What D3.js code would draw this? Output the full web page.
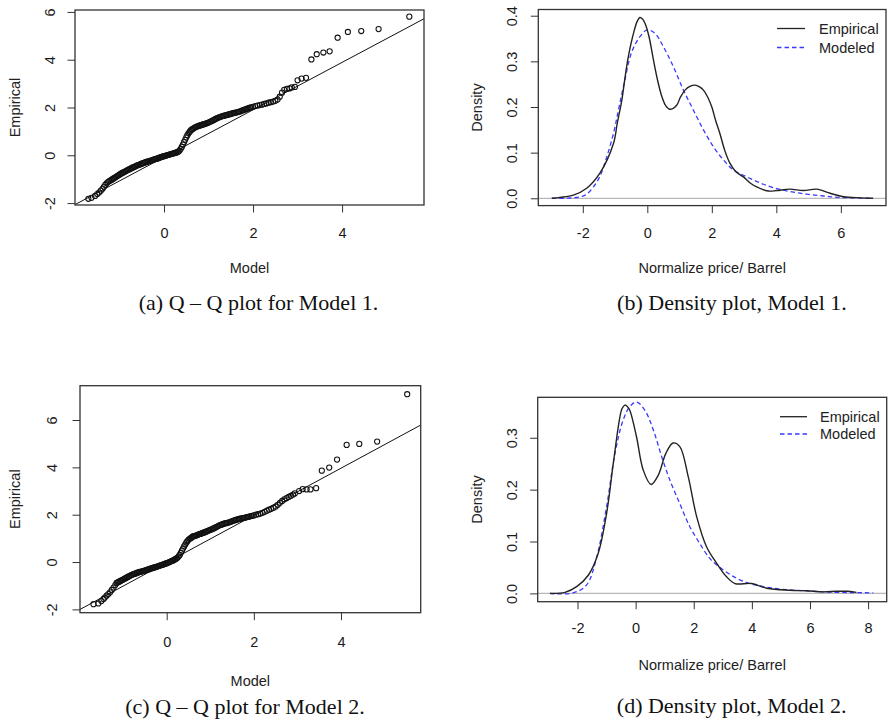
<!DOCTYPE html>
<html>
<head>
<meta charset="utf-8">
<script src="https://cdn.jsdelivr.net/npm/d3@7"></script>
<style>
  html, body { margin: 0; padding: 0; background: #fff; }
  svg { display: block; }
</style>
</head>
<body>
<svg id="fig" width="888" height="722"></svg>
<script>
// ---- data ----

// Q-Q Model 1: [model quantile, empirical quantile]
const qq1 = [
  [-1.70,-1.82],[-1.63,-1.78],[-1.55,-1.70],[-1.50,-1.62],[-1.46,-1.56],[-1.42,-1.48],
  [-1.38,-1.40],[-1.35,-1.32],[-1.32,-1.24],[-1.29,-1.17],[-1.26,-1.12],[-1.23,-1.08],
  [-1.200,-1.05],[-1.175,-1.02],[-1.150,-0.99],[-1.125,-0.96],[-1.100,-0.93],[-1.075,-0.90],
  [-1.050,-0.87],[-1.025,-0.84],[-1.000,-0.81],[-0.975,-0.78],[-0.950,-0.75],[-0.925,-0.73],
  [-0.900,-0.70],[-0.875,-0.68],[-0.850,-0.65],[-0.825,-0.63],[-0.800,-0.60],[-0.775,-0.58],
  [-0.750,-0.56],[-0.725,-0.53],[-0.700,-0.51],[-0.675,-0.49],[-0.650,-0.47],[-0.625,-0.44],
  [-0.600,-0.42],[-0.575,-0.41],[-0.550,-0.39],[-0.525,-0.37],[-0.500,-0.35],[-0.475,-0.33],
  [-0.450,-0.32],[-0.425,-0.30],[-0.400,-0.28],[-0.375,-0.27],[-0.350,-0.25],[-0.325,-0.24],
  [-0.300,-0.22],[-0.275,-0.21],[-0.250,-0.19],[-0.225,-0.18],[-0.200,-0.16],[-0.175,-0.15],
  [-0.150,-0.13],[-0.125,-0.12],[-0.100,-0.10],[-0.075,-0.08],[-0.050,-0.07],[-0.025,-0.05],
  [0.000,-0.04],[0.025,-0.02],[0.050,-0.01],[0.075,0.01],[0.100,0.02],[0.125,0.03],
  [0.150,0.05],[0.175,0.06],[0.200,0.07],[0.225,0.09],[0.250,0.10],[0.275,0.12],
  [0.300,0.13],[0.325,0.16],[0.350,0.20],[0.375,0.27],[0.400,0.35],[0.425,0.45],
  [0.450,0.55],[0.475,0.65],[0.500,0.75],[0.525,0.84],[0.550,0.92],[0.575,0.98],
  [0.600,1.04],[0.625,1.08],[0.650,1.11],[0.675,1.14],[0.700,1.17],[0.725,1.19],
  [0.750,1.21],[0.775,1.23],[0.800,1.24],[0.825,1.26],[0.850,1.27],[0.875,1.29],
  [0.900,1.30],[0.925,1.32],[0.950,1.34],[0.975,1.35],[1.000,1.37],
  [1.03,1.40],[1.06,1.42],[1.09,1.45],[1.12,1.48],[1.15,1.51],[1.18,1.54],[1.21,1.57],
  [1.24,1.59],[1.27,1.61],[1.30,1.63],[1.33,1.65],[1.36,1.66],[1.39,1.68],[1.42,1.69],
  [1.45,1.71],[1.48,1.72],[1.51,1.74],[1.54,1.75],[1.57,1.77],[1.60,1.78],[1.63,1.80],
  [1.66,1.81],[1.69,1.83],[1.72,1.84],[1.75,1.87],[1.78,1.89],[1.81,1.91],[1.84,1.93],
  [1.87,1.95],[1.90,1.97],[1.93,1.99],[1.96,2.01],[2.00,2.03],
  [2.05,2.06],[2.10,2.08],[2.15,2.10],[2.20,2.12],[2.25,2.15],[2.30,2.17],[2.35,2.20],
  [2.40,2.22],[2.45,2.25],[2.50,2.28],[2.55,2.33],[2.60,2.45],[2.65,2.62],[2.70,2.74],
  [2.76,2.78],[2.82,2.80],[2.87,2.84],[2.94,2.86],[3.00,3.14],[3.09,3.21],[3.19,3.24],
  [3.31,4.01],[3.43,4.23],[3.58,4.30],[3.72,4.35],[3.90,4.92],[4.13,5.16],[4.43,5.20],
  [4.82,5.28],[5.51,5.80]
];

// Q-Q Model 2
const qq2 = [
  [-1.68,-1.78],[-1.57,-1.75],[-1.50,-1.65],[-1.45,-1.56],[-1.42,-1.50],[-1.38,-1.42],
  [-1.34,-1.35],[-1.30,-1.28],[-1.26,-1.18],[-1.22,-1.08],[-1.18,-0.97],
  [-1.150,-0.88],[-1.125,-0.86],[-1.100,-0.84],[-1.075,-0.81],[-1.050,-0.79],[-1.025,-0.76],
  [-1.000,-0.74],[-0.975,-0.71],[-0.950,-0.69],[-0.925,-0.66],[-0.900,-0.64],[-0.875,-0.61],
  [-0.850,-0.59],[-0.825,-0.56],[-0.800,-0.54],[-0.775,-0.52],[-0.750,-0.51],[-0.725,-0.49],
  [-0.700,-0.47],[-0.675,-0.45],[-0.650,-0.44],[-0.625,-0.42],[-0.600,-0.41],[-0.575,-0.40],
  [-0.550,-0.38],[-0.525,-0.37],[-0.500,-0.36],[-0.475,-0.34],[-0.450,-0.33],[-0.425,-0.31],
  [-0.400,-0.30],[-0.375,-0.28],[-0.350,-0.27],[-0.325,-0.25],[-0.300,-0.24],[-0.275,-0.22],
  [-0.250,-0.21],[-0.225,-0.19],[-0.200,-0.18],[-0.175,-0.16],[-0.150,-0.15],[-0.125,-0.13],
  [-0.100,-0.12],[-0.075,-0.10],[-0.050,-0.08],[-0.025,-0.07],[0.000,-0.05],[0.025,-0.03],
  [0.050,-0.01],[0.075,0.01],[0.100,0.03],[0.125,0.05],[0.150,0.07],[0.175,0.10],
  [0.200,0.12],[0.225,0.15],[0.250,0.19],[0.275,0.24],[0.300,0.30],[0.325,0.39],
  [0.350,0.48],[0.375,0.57],[0.400,0.66],[0.425,0.74],[0.450,0.82],[0.475,0.88],
  [0.500,0.94],[0.525,0.98],[0.550,1.01],[0.575,1.04],[0.600,1.08],[0.625,1.09],
  [0.650,1.11],[0.675,1.12],[0.700,1.14],[0.725,1.16],[0.750,1.18],[0.775,1.19],
  [0.800,1.21],[0.825,1.23],[0.850,1.24],[0.875,1.26],[0.900,1.28],[0.925,1.30],
  [0.950,1.32],[0.975,1.34],[1.000,1.36],
  [1.03,1.38],[1.06,1.41],[1.09,1.43],[1.12,1.46],[1.15,1.49],[1.18,1.52],[1.21,1.55],
  [1.24,1.57],[1.27,1.59],[1.30,1.61],[1.33,1.63],[1.36,1.64],[1.39,1.66],[1.42,1.67],
  [1.45,1.69],[1.48,1.71],[1.51,1.73],[1.54,1.75],[1.57,1.77],[1.60,1.79],[1.63,1.80],
  [1.66,1.82],[1.69,1.83],[1.72,1.85],[1.75,1.86],[1.78,1.87],[1.81,1.88],[1.84,1.90],
  [1.87,1.91],[1.90,1.92],[1.93,1.94],[1.96,1.95],[2.00,1.97],
  [2.05,2.00],[2.10,2.02],[2.15,2.05],[2.20,2.08],[2.25,2.12],[2.30,2.17],[2.35,2.21],
  [2.40,2.25],[2.45,2.29],[2.50,2.34],[2.55,2.42],[2.60,2.50],[2.65,2.58],[2.70,2.65],
  [2.75,2.70],[2.80,2.75],[2.85,2.80],[2.90,2.85],[2.94,2.90],[3.04,3.00],[3.12,3.08],
  [3.21,3.07],[3.30,3.07],[3.43,3.12],
  [3.56,3.86],[3.73,3.99],[3.91,4.33],[4.13,4.95],[4.42,4.99],[4.83,5.09],[5.52,7.09]
];

// reference lines of the Q-Q plots: [intercept, slope]
const qqLine1 = [-0.08, 0.992];
const qqLine2 = [-0.02, 0.996];

// Density, Model 1: [price, density]
const empirical1 = [
  [-2.96,0.000],[-2.71,0.002],[-2.29,0.007],[-1.88,0.022],[-1.47,0.055],[-1.05,0.120],
  [-0.93,0.165],[-0.79,0.215],[-0.69,0.265],[-0.59,0.310],[-0.40,0.369],[-0.31,0.388],
  [-0.23,0.396],[-0.15,0.393],[-0.07,0.383],[0.05,0.355],[0.19,0.303],[0.32,0.258],
  [0.45,0.223],[0.57,0.203],[0.70,0.195],[0.91,0.204],[1.03,0.222],[1.17,0.237],
  [1.32,0.245],[1.48,0.248],[1.62,0.244],[1.74,0.237],[1.87,0.222],[2.00,0.200],
  [2.12,0.170],[2.25,0.142],[2.40,0.105],[2.56,0.077],[2.75,0.058],[2.98,0.047],
  [3.20,0.033],[3.39,0.025],[3.75,0.016],[4.01,0.017],[4.42,0.020],[4.84,0.017],
  [5.25,0.020],[5.67,0.011],[6.08,0.0035],[6.60,0.001],[7.00,0.000]
];
const modeled1 = [
  [-2.96,0.000],[-2.29,0.001],[-2.00,0.005],[-1.88,0.009],[-1.67,0.025],[-1.47,0.048],
  [-1.26,0.090],[-1.05,0.142],[-0.90,0.192],[-0.74,0.245],[-0.48,0.321],[-0.23,0.354],
  [0.00,0.369],[0.24,0.361],[0.50,0.332],[0.81,0.288],[1.12,0.237],[1.43,0.193],
  [1.74,0.150],[2.05,0.113],[2.36,0.084],[2.67,0.062],[3.08,0.047],[3.49,0.034],
  [3.91,0.023],[4.42,0.015],[4.94,0.009],[5.46,0.005],[5.98,0.002],[7.00,0.000]
];

// Density, Model 2
const empirical2 = [
  [-2.95,0.000],[-2.43,0.002],[-2.03,0.013],[-1.63,0.035],[-1.29,0.077],[-1.00,0.154],
  [-0.77,0.250],[-0.56,0.334],[-0.47,0.356],[-0.37,0.363],[-0.28,0.360],[-0.20,0.353],
  [0.03,0.302],[0.26,0.238],[0.53,0.210],[0.78,0.228],[1.04,0.270],[1.29,0.290],
  [1.52,0.283],[1.81,0.225],[2.10,0.148],[2.44,0.090],[2.79,0.058],[3.13,0.032],
  [3.42,0.019],[3.99,0.019],[4.51,0.010],[5.31,0.006],[5.88,0.005],[6.45,0.003],
  [6.92,0.004],[7.26,0.004],[7.60,0.002]
];
const modeled2 = [
  [-2.95,0.000],[-2.15,0.001],[-1.69,0.016],[-1.34,0.070],[-1.00,0.167],[-0.71,0.270],
  [-0.43,0.334],[-0.20,0.360],[0.03,0.369],[0.32,0.353],[0.61,0.315],[0.90,0.263],
  [1.18,0.218],[1.52,0.173],[1.87,0.128],[2.21,0.096],[2.56,0.067],[3.02,0.045],
  [3.48,0.029],[3.93,0.019],[4.51,0.012],[5.20,0.007],[5.88,0.005],[6.45,0.003],
  [7.03,0.002],[8.18,0.001]
];

// axis ticks
const qqXTicks = [0, 2, 4];
const qqYTicks = [-2, 0, 2, 4, 6];
const dens1XTicks = [-2, 0, 2, 4, 6];
const dens1YTicks = [0, 0.1, 0.2, 0.3, 0.4];
const dens2XTicks = [-2, 0, 2, 4, 6, 8];
const dens2YTicks = [0, 0.1, 0.2, 0.3];

const legendLabels = ['Empirical', 'Modeled'];
const captions = [
  '(a) Q \u2013 Q plot for Model 1.',
  '(b) Density plot, Model 1.',
  '(c) Q \u2013 Q plot for Model 2.',
  '(d) Density plot, Model 2.'
];

// ---- drawing ----
const SANS = '"Liberation Sans", Arial, sans-serif';
const SERIF = '"Liberation Serif", "Times New Roman", serif';
const BLUE = '#3a3aff';
const fmtInt = d => String(d);          // plain hyphen minus, like R
const fmtOne = d => d.toFixed(1);
const svg = d3.select('#fig');
const defs = svg.append('defs');

function makePanel(id, p) {
  const g = svg.append('g');
  const x = d3.scaleLinear().domain(p.xDomain).range([p.box.l, p.box.r]);
  const y = d3.scaleLinear().domain(p.yDomain).range([p.box.b, p.box.t]);

  defs.append('clipPath').attr('id', 'clip-' + id)
    .append('rect')
    .attr('x', p.box.l).attr('y', p.box.t)
    .attr('width', p.box.r - p.box.l).attr('height', p.box.b - p.box.t);

  // x axis
  const xa = g.append('g')
    .attr('transform', `translate(0,${p.box.b})`)
    .call(d3.axisBottom(x).tickValues(p.xTicks).tickSize(7.5).tickFormat(fmtInt));
  xa.select('.domain').remove();
  xa.selectAll('line').attr('stroke', '#333').attr('stroke-width', 1);
  xa.selectAll('text')
    .attr('y', p.xLabOff).attr('dy', '0.35em')
    .attr('fill', '#1a1a1a').style('font', `14.5px ${SANS}`);

  // y axis, labels parallel to axis as in R
  const ya = g.append('g')
    .attr('transform', `translate(${p.box.l},0)`)
    .call(d3.axisLeft(y).tickValues(p.yTicks).tickSize(7.5).tickFormat(p.yFmt || fmtInt));
  ya.select('.domain').remove();
  ya.selectAll('line').attr('stroke', '#333').attr('stroke-width', 1);
  ya.selectAll('text')
    .attr('x', null).attr('dy', '0.35em')
    .attr('text-anchor', 'middle')
    .attr('transform', `translate(${-p.yLabOff},0) rotate(-90)`)
    .attr('fill', '#1a1a1a').style('font', `14.5px ${SANS}`);

  // axis titles
  g.append('text')
    .attr('x', (p.box.l + p.box.r) / 2).attr('y', p.xTitleY)
    .attr('text-anchor', 'middle').attr('dy', '0.35em')
    .attr('fill', '#222').style('font', `14.5px ${SANS}`)
    .text(p.xTitle);
  g.append('text')
    .attr('transform', `translate(${p.yTitleX},${(p.box.t + p.box.b) / 2}) rotate(-90)`)
    .attr('text-anchor', 'middle').attr('dy', '0.35em')
    .attr('fill', '#222').style('font', `14.5px ${SANS}`)
    .text(p.yTitle);

  const plot = g.append('g').attr('clip-path', `url(#clip-${id})`);

  // box
  g.append('rect')
    .attr('x', p.box.l).attr('y', p.box.t)
    .attr('width', p.box.r - p.box.l).attr('height', p.box.b - p.box.t)
    .attr('fill', 'none').attr('stroke', '#333').attr('stroke-width', 1.3);

  // caption
  svg.append('text')
    .attr('x', p.caption.x).attr('y', p.caption.y)
    .attr('text-anchor', 'middle')
    .attr('fill', '#111').style('font', `22px ${SERIF}`)
    .text(p.caption.text);

  return { g, plot, x, y };
}

function qqPanel(id, p, pts, line) {
  const { plot, x, y } = makePanel(id, p);
  const [a, b] = line;
  plot.append('line')
    .attr('x1', x(p.xDomain[0])).attr('y1', y(a + b * p.xDomain[0]))
    .attr('x2', x(p.xDomain[1])).attr('y2', y(a + b * p.xDomain[1]))
    .attr('stroke', '#111').attr('stroke-width', 1);
  plot.selectAll('circle.pt').data(pts).join('circle')
    .attr('class', 'pt')
    .attr('cx', d => x(d[0])).attr('cy', d => y(d[1]))
    .attr('r', 2.6)
    .attr('fill', 'none').attr('stroke', '#111').attr('stroke-width', 1.05);
}

function densPanel(id, p, emp, mod) {
  const { g, plot, x, y } = makePanel(id, p);
  plot.append('line')
    .attr('x1', p.box.l).attr('x2', p.box.r)
    .attr('y1', y(0)).attr('y2', y(0))
    .attr('stroke', '#b8b8b8').attr('stroke-width', 1.2);
  const line = d3.line().x(d => x(d[0])).y(d => y(d[1])).curve(d3.curveCatmullRom.alpha(0.5));
  plot.append('path').datum(mod).attr('d', line)
    .attr('fill', 'none').attr('stroke', BLUE).attr('stroke-width', 1.3)
    .attr('stroke-dasharray', '4.5,3');
  plot.append('path').datum(emp).attr('d', line)
    .attr('fill', 'none').attr('stroke', '#222').attr('stroke-width', 1.4);

  // legend (no frame)
  const lg = g.append('g');
  const styles = [
    { stroke: '#222', dash: null },
    { stroke: BLUE, dash: '4.5,3' }
  ];
  legendLabels.forEach((lab, i) => {
    const yy = p.legend.rows[i];
    lg.append('line')
      .attr('x1', p.legend.x1).attr('x2', p.legend.x2)
      .attr('y1', yy).attr('y2', yy)
      .attr('stroke', styles[i].stroke).attr('stroke-width', 1.3)
      .attr('stroke-dasharray', styles[i].dash);
    lg.append('text')
      .attr('x', p.legend.tx).attr('y', yy).attr('dy', '0.35em')
      .attr('fill', '#222').style('font', `14.5px ${SANS}`)
      .text(lab);
  });
}

qqPanel('a', {
  box: { l: 75, r: 424, t: 10, b: 205 },
  xDomain: [-2.0, 5.84], yDomain: [-2.08, 6.08],
  xTicks: qqXTicks, yTicks: qqYTicks,
  xLabOff: 27.5, yLabOff: 25.5, xTitleY: 267.5, yTitleX: 15,
  xTitle: 'Model', yTitle: 'Empirical',
  caption: { x: 258.5, y: 310, text: captions[0] }
}, qq1, qqLine1);

densPanel('b', {
  box: { l: 538.3, r: 886, t: 9.5, b: 205.6 },
  xDomain: [-3.38, 7.4], yDomain: [-0.016, 0.4136],
  xTicks: dens1XTicks, yTicks: dens1YTicks, yFmt: fmtOne,
  xLabOff: 27, yLabOff: 26.5, xTitleY: 268, yTitleX: 477,
  xTitle: 'Normalize price/ Barrel', yTitle: 'Density',
  legend: { x1: 777, x2: 805, tx: 819, rows: [28.5, 47.5] },
  caption: { x: 732, y: 310, text: captions[1] }
}, empirical1, modeled1);

qqPanel('c', {
  box: { l: 80, r: 420.7, t: 385.7, b: 612.7 },
  xDomain: [-1.99, 5.83], yDomain: [-2.14, 7.45],
  xTicks: qqXTicks, yTicks: qqYTicks,
  xLabOff: 29, yLabOff: 28, xTitleY: 681, yTitleX: 15,
  xTitle: 'Model', yTitle: 'Empirical',
  caption: { x: 245, y: 714, text: captions[2] }
}, qq2, qqLine2);

densPanel('d', {
  box: { l: 537.7, r: 886.7, t: 397.3, b: 601.7 },
  xDomain: [-3.37, 8.64], yDomain: [-0.016, 0.378],
  xTicks: dens2XTicks, yTicks: dens2YTicks, yFmt: fmtOne,
  xLabOff: 26.6, yLabOff: 26, xTitleY: 665, yTitleX: 477,
  xTitle: 'Normalize price/ Barrel', yTitle: 'Density',
  legend: { x1: 780, x2: 807, tx: 820, rows: [416.7, 434] },
  caption: { x: 731.7, y: 713, text: captions[3] }
}, empirical2, modeled2);
</script>
</body>
</html>
